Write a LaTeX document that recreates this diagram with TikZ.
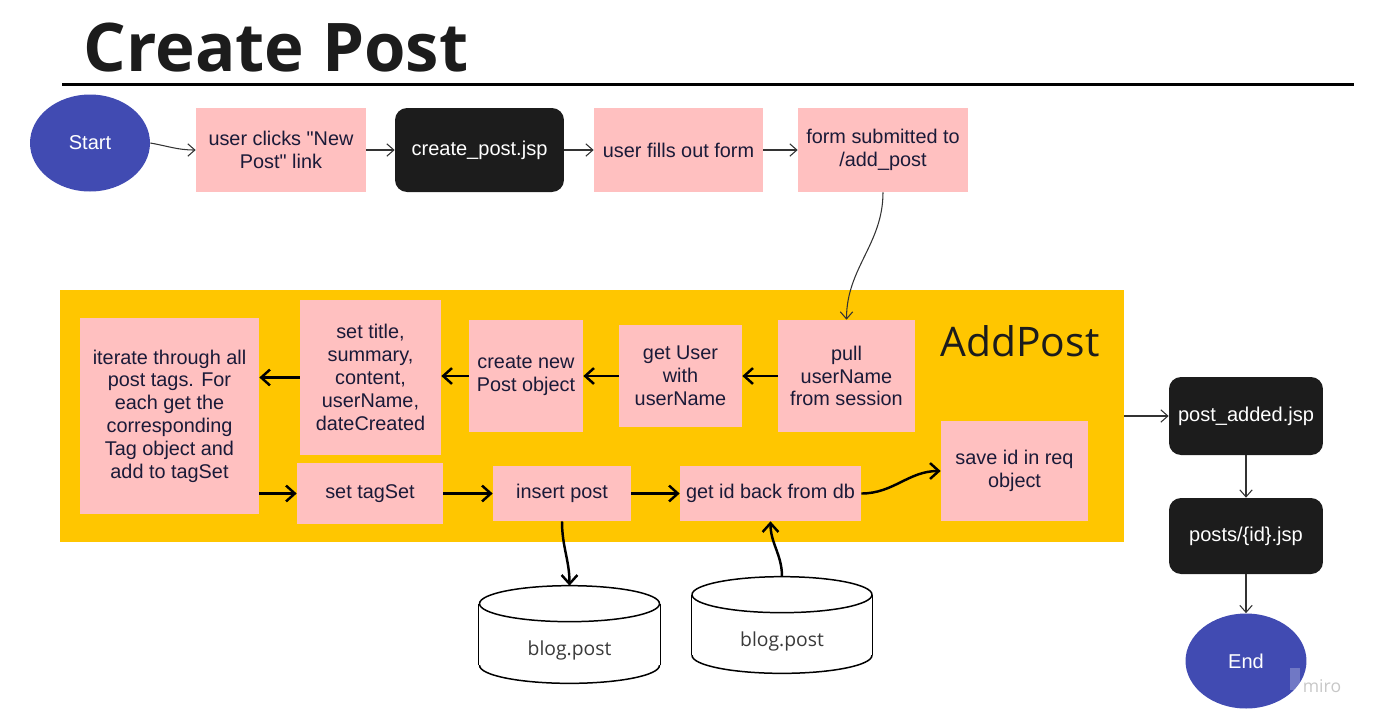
\documentclass[tikz,border=0pt]{standalone}
\usepackage{fontspec}
\setmainfont{Liberation Sans}
\newfontfamily\headfont{Open Sans}
\definecolor{PostPink}{HTML}{FFC0C0}
\definecolor{PostYellow}{HTML}{FFC600}
\definecolor{PostIndigo}{HTML}{414BB2}
\definecolor{PostBlack}{HTML}{1C1C1C}
\definecolor{PostInk}{HTML}{1A1A38}
\definecolor{PostLine}{HTML}{333333}
\definecolor{PostGray}{HTML}{3A3A3A}
\usepackage{tikz}
\usetikzlibrary{shapes.geometric,arrows.meta,backgrounds}

\begin{document}
\begin{tikzpicture}[x=0.02cm, y=-0.02cm,
  proc/.style={fill=PostPink, text=PostInk, align=center, inner sep=0pt,
    font=\fontsize{11.3}{13}\selectfont},
  jsp/.style={fill=PostBlack, rounded corners=0.24cm, text=white, align=center,
    inner sep=0pt, font=\fontsize{11.4}{13}\selectfont},
  term/.style={ellipse, fill=PostIndigo, text=white, inner sep=0pt,
    font=\fontsize{11.4}{13}\selectfont},
  dbbox/.style={inner sep=0pt, text=PostGray, text height=0.95cm,
    font=\headfont\fontsize{11}{13}\selectfont},
  dbline/.style={draw=black, line width=0.85pt},
  flow/.style={draw=PostLine, line width=0.6pt,
    -{Straight Barb[length=4pt,width=7pt]}},
  boldflow/.style={draw=black, line width=1.4pt,
    -{Straight Barb[length=5pt,width=9pt]}}]
  \useasboundingbox (0,0) rectangle (1377,725);
  % title
  \node[text=PostBlack, font=\headfont\bfseries\fontsize{38.2}{38.2}\selectfont]
    (title) at (276,48) {Create Post};
  \draw[black, line width=1.7pt] (62,84) -- (1354,84);
  % top row
  \node[term, minimum width=2.4cm, minimum height=1.94cm] (start) at (90,143) {Start};
  \node[proc, minimum width=3.4cm, minimum height=1.68cm] (clicks) at (281,150)
    {user clicks \textquotedbl New\\Post\textquotedbl{} link};
  \node[jsp, minimum width=3.38cm, minimum height=1.68cm] (createJsp) at (479.5,150)
    {create\_post.jsp};
  \node[proc, minimum width=3.38cm, minimum height=1.68cm] (fillForm) at (678.5,150)
    {user fills out form};
  \node[proc, minimum width=3.4cm, minimum height=1.68cm] (submit) at (883,150)
    {form submitted to\\/add\_post};
  % servlet area
  \node[fill=PostYellow, minimum width=21.28cm, minimum height=5.04cm, inner sep=0pt]
    (addPostBox) at (592,416) {};
  \node[text=PostBlack, font=\headfont\fontsize{23.2}{23.2}\selectfont]
    (addPostName) at (1020,341) {AddPost};
  \node[proc, minimum width=2.74cm, minimum height=2.24cm] (pull) at (846.5,376)
    {pull\\userName\\from session};
  \node[proc, minimum width=2.46cm, minimum height=2.04cm] (getUser) at (680.5,376)
    {get User\\with\\userName};
  \node[proc, minimum width=2.28cm, minimum height=2.24cm] (newPost) at (526,376)
    {create new\\Post object};
  \node[proc, minimum width=2.82cm, minimum height=3.1cm] (setFields) at (370.5,377.5)
    {set title,\\summary,\\content,\\userName,\\dateCreated};
  \node[proc, minimum width=3.58cm, minimum height=3.92cm] (iterate) at (169.5,416)
    {iterate through all\\post tags. For\\each get the\\corresponding\\Tag object and\\add to tagSet};
  \node[proc, minimum width=2.92cm, minimum height=1.22cm] (setTags) at (370,493.5)
    {set tagSet};
  \node[proc, minimum width=2.76cm, minimum height=1.1cm] (insert) at (562,493.5)
    {insert post};
  \node[proc, minimum width=3.62cm, minimum height=1.1cm] (getId) at (770.5,493.5)
    {get id back from db};
  \node[proc, minimum width=2.94cm, minimum height=2cm] (saveId) at (1014.5,471)
    {save id in req\\object};
  % database
  \node[dbbox, minimum width=3.62cm, minimum height=1.94cm] (dbIn) at (569.5,634.5) {blog.post};
  \node[dbbox, minimum width=3.6cm, minimum height=1.92cm] (dbOut) at (782,625) {blog.post};
  \begin{scope}[on background layer]
    \foreach \db in {dbIn,dbOut}{
      \draw[dbline, fill=white] ([yshift=0.36cm]\db.south) ellipse [x radius=1.8cm, y radius=0.36cm];
      \fill[white] ([yshift=-0.36cm]\db.north west) rectangle ([yshift=0.36cm]\db.south east);
      \draw[dbline] ([yshift=-0.36cm]\db.north west) -- ([yshift=0.36cm]\db.south west);
      \draw[dbline] ([yshift=-0.36cm]\db.north east) -- ([yshift=0.36cm]\db.south east);
      \draw[dbline, fill=white] ([yshift=-0.36cm]\db.north) ellipse [x radius=1.8cm, y radius=0.36cm];
    }
  \end{scope}
  % right column
  \node[jsp, minimum width=3.08cm, minimum height=1.56cm] (addedJsp) at (1246,416)
    {post\_added.jsp};
  \node[jsp, minimum width=3.08cm, minimum height=1.52cm] (postJsp) at (1246,536)
    {posts/\{id\}.jsp};
  \node[term, minimum width=2.42cm, minimum height=1.9cm] (finish) at (1246,661) {End};
  % watermark
  \fill[white, opacity=0.25] (1290,668) rectangle (1300,690);
  \node[text=black!22, font=\headfont\fontsize{10}{10}\selectfont] (miro) at (1322,686) {miro};
  % connectors
  \draw[flow] (start.east) to[out=-10,in=180] (clicks.west);
  \draw[flow] (clicks) -- (createJsp);
  \draw[flow] (createJsp) -- (fillForm);
  \draw[flow] (fillForm) -- (submit);
  \draw[flow] (submit.south) to[out=-90,in=90] (pull.north);
  \draw[boldflow] (pull) -- (getUser);
  \draw[boldflow] (getUser) -- (newPost);
  \draw[boldflow] (newPost.west) -- (setFields.east |- newPost.west);
  \draw[boldflow] (setFields.west) -- (iterate.east |- setFields.west);
  \draw[boldflow] (iterate.east |- setTags.west) -- (setTags.west);
  \draw[boldflow] (setTags) -- (insert);
  \draw[boldflow] (insert) -- (getId);
  \draw[boldflow] (getId.east) to[out=0,in=180] (saveId.west);
  \draw[boldflow] (insert.south) to[out=-90,in=90] (dbIn.north);
  \draw[boldflow] (dbOut.north) to[out=90,in=-90] (getId.south);
  \draw[flow] (addPostBox.east |- addedJsp.west) -- (addedJsp.west);
  \draw[flow] (addedJsp) -- (postJsp);
  \draw[flow] (postJsp) -- (finish);
\end{tikzpicture}
\end{document}
